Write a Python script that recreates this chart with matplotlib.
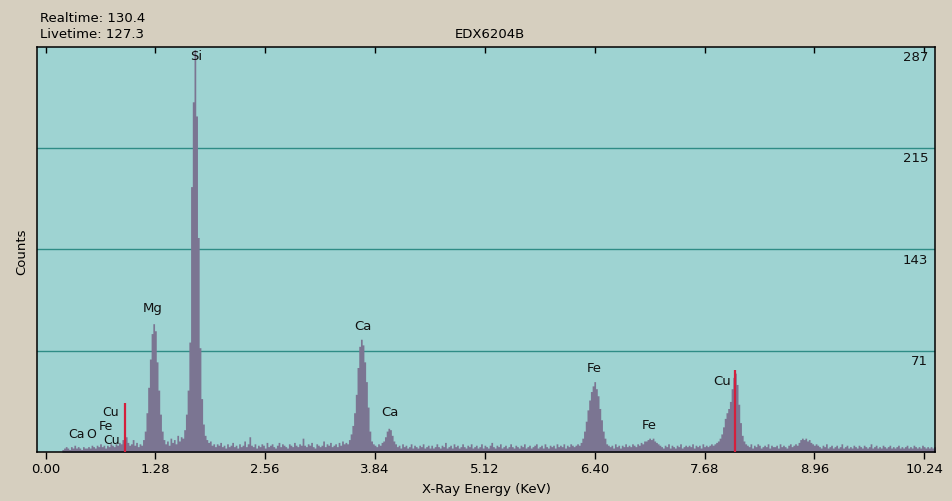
import matplotlib
matplotlib.use('Agg')
import matplotlib.pyplot as plt
import numpy as np

plt.rcParams['font.family'] = ['DejaVu Sans']

# ---- data: counts per 0.02 keV channel, starting at 0.00 keV ----
channel_width = 0.02
counts = [
    0, 0, 0, 0, 0, 0, 0, 0, 0, 0, 2, 3, 4, 3, 2, 4, 3, 5, 3, 4, 3, 2, 4, 3, 3,            # 0.00-0.48
    4, 3, 5, 4, 3, 5, 4, 6, 4, 5, 3, 5, 4, 6, 5, 4, 6, 5, 7, 6, 9, 12, 11, 7, 5,          # 0.50-0.98
    6, 9, 5, 7, 4, 6, 5, 9, 15, 28, 46, 66, 84, 91, 86, 64, 44, 27, 15, 9, 6, 8, 5, 10, 7,  # 1.00-1.48
    9, 6, 12, 8, 11, 10, 16, 27, 44, 78, 188, 248, 285, 238, 152, 74, 38, 20, 12, 9, 7, 8, 5, 6, 4,  # 1.50-1.98
    6, 5, 7, 4, 5, 3, 6, 4, 5, 7, 4, 5, 3, 6, 4, 5, 8, 4, 6, 11, 5, 4, 6, 3, 5,          # 2.00-2.48
    4, 6, 5, 3, 7, 4, 5, 6, 4, 3, 5, 7, 4, 6, 5, 4, 3, 6, 5, 4, 7, 5, 4, 6, 5,           # 2.50-2.98
    10, 5, 4, 6, 5, 7, 4, 3, 6, 5, 4, 5, 8, 4, 6, 5, 7, 4, 5, 6, 4, 7, 5, 8, 6,          # 3.00-3.48
    7, 6, 9, 13, 19, 28, 41, 60, 75, 80, 76, 64, 50, 32, 15, 8, 6, 5, 4, 6, 5, 7, 8, 11, 15,  # 3.50-3.98
    17, 16, 12, 8, 6, 4, 5, 3, 6, 4, 5, 3, 4, 6, 3, 5, 4, 3, 5, 4, 6, 3, 4, 5, 3,        # 4.00-4.48
    5, 3, 4, 6, 4, 3, 5, 4, 7, 3, 4, 5, 3, 6, 4, 5, 3, 4, 6, 4, 3, 5, 4, 6, 3,           # 4.50-4.98
    4, 5, 3, 4, 6, 3, 5, 4, 3, 5, 7, 4, 3, 5, 4, 6, 3, 4, 5, 3, 4, 6, 4, 3, 5,           # 5.00-5.48
    4, 3, 5, 4, 6, 3, 4, 5, 3, 4, 5, 6, 3, 4, 5, 3, 6, 4, 3, 5, 4, 5, 3, 6, 4,           # 5.50-5.98
    5, 4, 6, 3, 5, 4, 6, 5, 4, 5, 6, 5, 7, 10, 15, 22, 30, 37, 43, 47, 50, 45, 40, 31, 23,  # 6.00-6.48
    15, 10, 6, 5, 4, 5, 3, 6, 4, 5, 3, 5, 4, 6, 4, 5, 4, 6, 5, 4, 6, 5, 7, 6, 8,         # 6.50-6.98
    8, 9, 10, 9, 10, 8, 7, 6, 5, 4, 3, 5, 4, 6, 3, 5, 4, 3, 5, 4, 6, 3, 4, 5, 4,         # 7.00-7.48
    5, 4, 6, 3, 5, 4, 5, 3, 6, 4, 5, 4, 5, 6, 5, 6, 7, 8, 10, 13, 18, 24, 28, 31, 36,    # 7.50-7.98
    45, 53, 56, 48, 34, 21, 12, 8, 6, 5, 4, 6, 3, 5, 4, 6, 5, 3, 4, 5, 4, 6, 3, 5, 4,    # 8.00-8.48
    4, 5, 3, 6, 4, 5, 4, 3, 5, 6, 4, 5, 6, 5, 7, 9, 10, 9, 10, 8, 9, 7, 6, 5, 6,         # 8.50-8.98
    5, 4, 3, 5, 4, 6, 3, 4, 5, 3, 4, 5, 3, 4, 6, 3, 4, 5, 3, 4, 3, 5, 4, 3, 5,           # 9.00-9.48
    4, 3, 5, 4, 3, 4, 6, 3, 4, 5, 3, 4, 3, 5, 4, 3, 4, 5, 3, 4, 3, 4, 5, 3, 4,           # 9.50-9.98
    3, 4, 5, 3, 4, 3, 5, 4, 3, 4, 3, 5, 4, 3, 4, 3, 4, 3, 4, 3, 4, 3, 4, 3, 4,           # 10.00-10.48
]
energy = np.arange(len(counts)) * channel_width

# KLM marker lines (red)
marker_energy = [0.93, 8.04]
marker_height = [35, 58]

# peak labels (main peaks)
label_text = ['Si', 'Mg', 'Ca', 'Ca', 'Fe', 'Fe', 'Cu']
label_x = [1.75, 1.25, 3.70, 4.01, 6.40, 7.04, 7.89]
label_y = [280, 102, 89, 28, 59, 19, 50]

# crowded labels near the low-energy end (smaller)
small_text = ['Cu', 'Fe', 'Cu', 'Ca', 'O']
small_x = [0.76, 0.70, 0.77, 0.36, 0.535]
small_y = [28, 18.2, 8.6, 12.6, 12.6]

x_ticks = [0.00, 1.28, 2.56, 3.84, 5.12, 6.40, 7.68, 8.96, 10.24]
y_max = 287
y_grid = [y_max / 4 * k for k in range(1, 4)]
y_grid_labels = ['71', '143', '215']

# ---- style ----
FIG_BG = '#d6cfbf'
PLOT_BG = '#9ed3d2'
SPEC = '#7b7592'
GRID = '#2f8c86'
RED = '#d41f3c'

fig = plt.figure(figsize=(9.52, 5.01), dpi=100, facecolor=FIG_BG)
ax = fig.add_axes([37/952, 1-452.3/501, (935-37)/952, (452.3-46.7)/501])
ax.set_facecolor(PLOT_BG)

for y in y_grid:
    ax.axhline(y, color=GRID, lw=1.0, zorder=1)

ax.fill_between(energy, counts, step='mid', color=SPEC, lw=0, zorder=2)
ax.vlines(marker_energy, 0, marker_height, color=RED, lw=1.6, zorder=3)

for t, x, y in zip(label_text, label_x, label_y):
    ax.text(x, y, t, ha='center', va='center', fontsize=9.5, color='#111111', zorder=4)
for t, x, y in zip(small_text, small_x, small_y):
    ax.text(x, y, t, ha='center', va='center', fontsize=9, color='#111111', zorder=4)

ax.set_xlim(-0.100, 10.366)
ax.set_ylim(0, y_max)

ax.set_xticks(x_ticks)
ax.set_xticklabels([f'{v:.2f}' for v in x_ticks])
ax.tick_params(axis='x', bottom=True, top=False, direction='out',
               length=5, width=1, labelsize=9.5, pad=3, colors='black')
# top ticks point inward
sec = ax.secondary_xaxis('top')
sec.set_xticks(x_ticks)
sec.tick_params(direction='in', length=4.5, width=1, labeltop=False)
sec.spines['top'].set_visible(False)

ax.set_yticks([])
for y, lab in zip(y_grid + [y_max], y_grid_labels + ['287']):
    ax.annotate(lab, xy=(1, y), xycoords=('axes fraction', 'data'),
                xytext=(-5, -3), textcoords='offset points',
                ha='right', va='top', fontsize=9.5, color='#111111')

for s in ax.spines.values():
    s.set_color('black')
    s.set_linewidth(1.1)

fig.text(40/952, 1-19/501, 'Realtime: 130.4', ha='left', va='center', fontsize=9.5)
fig.text(40/952, 1-34/501, 'Livetime: 127.3', ha='left', va='center', fontsize=9.5)
fig.text(490/952, 1-34/501, 'EDX6204B', ha='center', va='center', fontsize=9.5)
fig.text(22/952, 1-252/501, 'Counts', ha='center', va='center', rotation=90, fontsize=9.5)
fig.text(486/952, 1-490/501, 'X-Ray Energy (KeV)', ha='center', va='center', fontsize=9.5)

fig.savefig('out.png', dpi=100, facecolor=FIG_BG)
